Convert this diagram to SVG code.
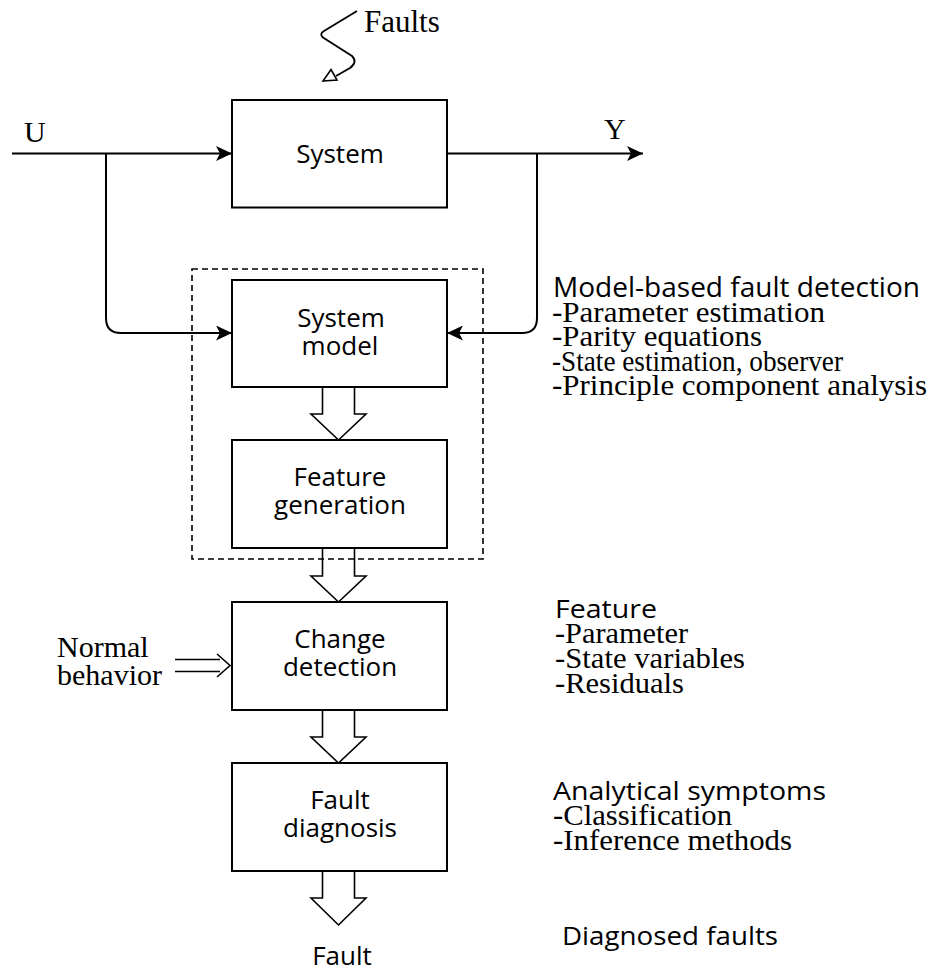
<svg xmlns="http://www.w3.org/2000/svg" width="930" height="974" viewBox="0 0 930 974">
<style>
.box{fill:#fff;stroke:#000;stroke-width:2}
.ln{fill:none;stroke:#000;stroke-width:2}
.hol{fill:#fff;stroke:#000;stroke-width:1.6;stroke-linejoin:miter}
.sans{font-family:"Open Sans","DejaVu Sans",sans-serif;font-size:26px;fill:#000}
.serif{font-family:"Liberation Serif","Times New Roman",serif;font-size:30px;fill:#000}
.note{font-size:29px}
.mid{text-anchor:middle}
</style>
<defs>
<marker id="ah" viewBox="0 0 16 15" refX="16" refY="7.5" markerWidth="16" markerHeight="15" markerUnits="userSpaceOnUse" orient="auto">
<path d="M0,0 L16,7.5 L0,15 L4,7.5 Z" fill="#000"/>
</marker>
</defs>
<rect width="930" height="974" fill="#fff"/>

<g id="connectors">
<path class="ln" d="M12,153.5 H232" marker-end="url(#ah)"/>
<path class="ln" d="M447,153.5 H643" marker-end="url(#ah)"/>
<path class="ln" d="M106,153.5 V318 Q106,333 121,333 H232" marker-end="url(#ah)"/>
<path class="ln" d="M537,153.5 V318 Q537,333 522,333 H447" marker-end="url(#ah)"/>
<path class="hol" d="M322.5,387 V414 H311 L338.5,440 L366,414 H354.5 V387"/>
<path class="hol" d="M322.5,548 V576 H311 L338.5,602 L366,576 H354.5 V548"/>
<path class="hol" d="M322.5,710 V737 H311 L338.5,763 L366,737 H354.5 V710"/>
<path class="hol" d="M322.5,871 V898 H311 L338.5,925 L366,898 H354.5 V871"/>
<path class="ln" style="stroke-width:1.6" d="M175,659.5 H220 M175,671.5 H220 M217,654 L230,665.5 L217,677"/>
<path class="ln" style="stroke-width:1.8" d="M357,11 L324,31 Q319,34 323,37.5 L352,56 Q358,62 350,68 L336,76"/>
<polygon class="hol" points="323,81 337,80 331,69.5"/>
</g>

<g id="faults-label"><text class="serif" x="364" y="32" style="font-size:31px">Faults</text></g>
<g id="u-label"><text class="serif" x="24" y="142">U</text></g>
<g id="y-label"><text class="serif" x="604" y="139">Y</text></g>

<g id="dashed-group"><rect x="192" y="269" width="291" height="290" fill="none" stroke="#000" stroke-width="1.6" stroke-dasharray="6,4"/></g>

<g id="system">
<rect class="box" x="232" y="100" width="215" height="107.5"/>
<text class="sans mid" x="340" y="163">System</text>
</g>
<g id="system-model">
<rect class="box" x="232" y="280" width="215" height="107"/>
<text class="sans mid" x="341" y="327">System</text>
<text class="sans mid" x="340" y="355">model</text>
</g>
<g id="feature-generation">
<rect class="box" x="232" y="440" width="215" height="108"/>
<text class="sans mid" x="340" y="486">Feature</text>
<text class="sans mid" x="340" y="514">generation</text>
</g>
<g id="change-detection">
<rect class="box" x="232" y="602" width="215" height="108"/>
<text class="sans mid" x="340" y="648">Change</text>
<text class="sans mid" x="340" y="676">detection</text>
</g>
<g id="fault-diagnosis">
<rect class="box" x="232" y="763" width="215" height="108"/>
<text class="sans mid" x="340" y="809">Fault</text>
<text class="sans mid" x="340" y="837">diagnosis</text>
</g>

<g id="normal-behavior">
<text class="serif" x="57" y="657">Normal</text>
<text class="serif" x="57" y="685">behavior</text>
</g>
<g id="fault-output"><text class="sans mid" x="342" y="965">Fault</text></g>

<g id="model-based-notes">
<text class="sans" x="553" y="297" style="font-size:27px" textLength="367" lengthAdjust="spacingAndGlyphs">Model-based fault detection</text>
<text class="serif note" x="552" y="321.5" textLength="273" lengthAdjust="spacingAndGlyphs">-Parameter estimation</text>
<text class="serif note" x="552" y="346" textLength="210" lengthAdjust="spacingAndGlyphs">-Parity equations</text>
<text class="serif note" x="552" y="370.5" textLength="291" lengthAdjust="spacingAndGlyphs">-State estimation, observer</text>
<text class="serif note" x="552" y="395" textLength="375" lengthAdjust="spacingAndGlyphs">-Principle component analysis</text>
</g>
<g id="feature-notes">
<text class="sans" x="555" y="618" textLength="102" lengthAdjust="spacingAndGlyphs">Feature</text>
<text class="serif note" x="555" y="643" textLength="133" lengthAdjust="spacingAndGlyphs">-Parameter</text>
<text class="serif note" x="555" y="668" textLength="190" lengthAdjust="spacingAndGlyphs">-State variables</text>
<text class="serif note" x="555" y="693" textLength="129" lengthAdjust="spacingAndGlyphs">-Residuals</text>
</g>
<g id="symptom-notes">
<text class="sans" x="553" y="800" textLength="273" lengthAdjust="spacingAndGlyphs">Analytical symptoms</text>
<text class="serif note" x="553" y="825" textLength="179" lengthAdjust="spacingAndGlyphs">-Classification</text>
<text class="serif note" x="553" y="850" textLength="239" lengthAdjust="spacingAndGlyphs">-Inference methods</text>
</g>
<g id="diagnosed-notes">
<text class="sans" x="562" y="945" textLength="216" lengthAdjust="spacingAndGlyphs">Diagnosed faults</text>
</g>
</svg>
